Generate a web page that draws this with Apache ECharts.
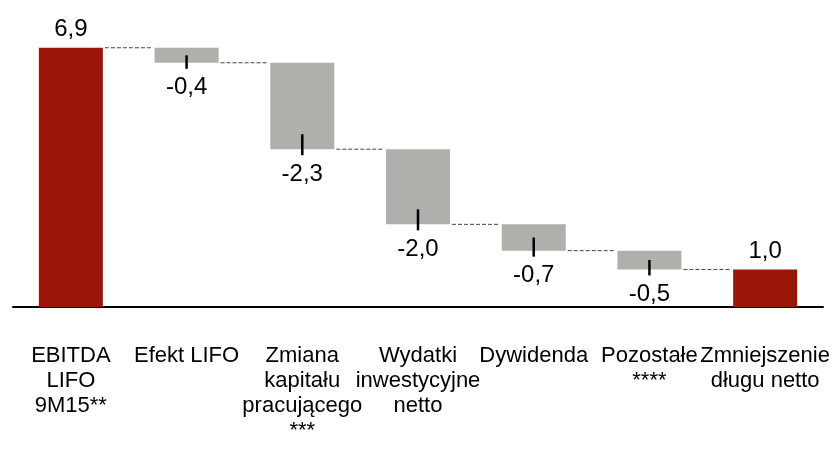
<!DOCTYPE html>
<html>
<head>
<meta charset="utf-8">
<script src="https://cdn.jsdelivr.net/npm/echarts@6/dist/echarts.min.js"></script>
<style>
html,body{margin:0;padding:0;background:#fff;}
#chart{width:834px;height:449px;}
</style>
</head>
<body>
<div id="chart"></div>
<script>
var categories = ['EBITDA\nLIFO\n9M15**', 'Efekt LIFO', 'Zmiana\nkapitału\npracującego\n***', 'Wydatki\ninwestycyjne\nnetto', 'Dywidenda', 'Pozostałe\n****', 'Zmniejszenie\ndługu netto'];
var values = [6.9, -0.4, -2.3, -2.0, -0.7, -0.5, 1.0];
var isTotal = [true, false, false, false, false, false, true];

var FONT = "'Liberation Sans', Arial, sans-serif";
var RED = '#9B1606';
var GRAY = '#AFB0AB';

// derive waterfall geometry from values
var baseVals = [], heightVals = [], levels = [];
var running = 0;
for (var i = 0; i < values.length; i++) {
  if (isTotal[i]) {
    baseVals.push(0);
    heightVals.push(values[i]);
    running = values[i];
  } else {
    var next = running + values[i];
    baseVals.push(Math.min(running, next));
    heightVals.push(Math.abs(values[i]));
    running = next;
  }
  levels.push(running);
}
function fmt(v) { return v.toFixed(1).replace('.', ','); }

var connectorData = [];
for (var j = 0; j < values.length - 1; j++) connectorData.push([j, levels[j]]);
var tickData = [];
for (var k = 0; k < values.length; k++) if (!isTotal[k]) tickData.push([k, baseVals[k], heightVals[k]]);

var BAR_W = 64;

var chart = echarts.init(document.getElementById('chart'));
chart.setOption({
  animation: false,
  backgroundColor: '#fff',
  grid: { left: 13, right: 11, top: 44, bottom: 142, containLabel: false },
  xAxis: {
    type: 'category',
    data: categories,
    axisLine: { show: true, lineStyle: { color: '#000', width: 2 } },
    axisTick: { show: false },
    axisLabel: {
      interval: 0, color: '#000', fontFamily: FONT, fontSize: 22, lineHeight: 25, margin: 36
    }
  },
  yAxis: { type: 'value', min: 0, max: 7, show: false, splitLine: { show: false } },
  series: [
    {
      type: 'bar', stack: 'w', data: baseVals, barWidth: BAR_W,
      itemStyle: { color: 'transparent' }, silent: true
    },
    {
      type: 'bar', stack: 'w', barWidth: BAR_W,
      data: heightVals.map(function (h, i) {
        return {
          value: h,
          itemStyle: { color: isTotal[i] ? RED : GRAY },
          label: {
            show: true,
            position: isTotal[i] ? 'top' : 'bottom',
            distance: isTotal[i] ? 6 : 13,
            formatter: fmt(values[i]),
            color: '#000', fontFamily: FONT, fontSize: 24
          }
        };
      })
    },
    {
      type: 'custom', silent: true, data: connectorData,
      renderItem: function (params, api) {
        var p = api.coord([api.value(0), api.value(1)]);
        var band = api.size([1, 0])[0];
        return {
          type: 'line',
          shape: { x1: p[0] + BAR_W / 2 + 2, y1: p[1], x2: p[0] + band - BAR_W / 2 - 2, y2: p[1] },
          style: { stroke: '#444', lineWidth: 1, lineDash: [4, 2] }
        };
      }
    },
    {
      type: 'custom', silent: true, data: tickData, z: 5,
      renderItem: function (params, api) {
        var p = api.coord([api.value(0), api.value(1)]);
        var hpx = api.size([0, api.value(2)])[1];
        var top = p[1] - Math.min(hpx / 2, 15);
        return {
          type: 'line',
          shape: { x1: p[0], y1: top, x2: p[0], y2: p[1] + 6 },
          style: { stroke: '#000', lineWidth: 2.5 }
        };
      }
    }
  ]
});
</script>
</body>
</html>
